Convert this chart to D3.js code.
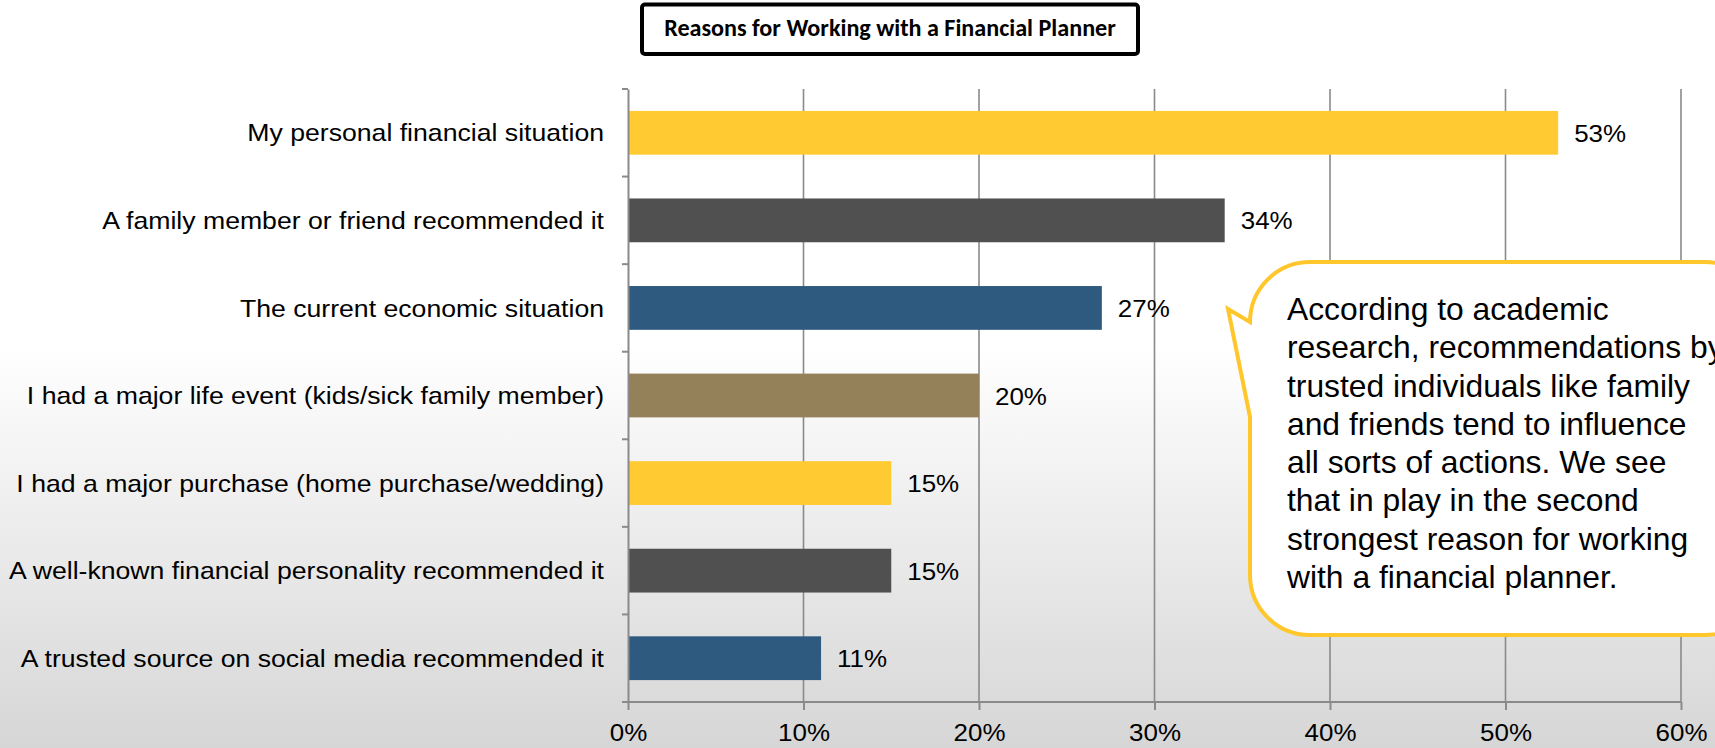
<!DOCTYPE html>
<html>
<head>
<meta charset="utf-8">
<script src="https://cdn.jsdelivr.net/npm/d3@7"></script>
<style>
  html, body { margin: 0; padding: 0; overflow: hidden; }
  svg { display: block; }
</style>
</head>
<body>
<svg id="chart" width="1715" height="748"></svg>
<script>
// Survey answers, top to bottom
const categories = [
  "My personal financial situation",
  "A family member or friend recommended it",
  "The current economic situation",
  "I had a major life event (kids/sick family member)",
  "I had a major purchase (home purchase/wedding)",
  "A well-known financial personality recommended it",
  "A trusted source on social media recommended it"
];
const values = [53, 34, 27, 20, 15, 15, 11];
const tickValues = [0, 10, 20, 30, 40, 50, 60];
const tickLabels = ["0%", "10%", "20%", "30%", "40%", "50%", "60%"];
const chartTitle = "Reasons for Working with a Financial Planner";
const calloutLines = [
  "According to academic",
  "research, recommendations by",
  "trusted individuals like family",
  "and friends tend to influence",
  "all sorts of actions. We see",
  "that in play in the second",
  "strongest reason for working",
  "with a financial planner."
];

// Bar fills cycle through the house palette
const palette = ["#FFCA32", "#505050", "#2E5A80", "#948059"];

const W = 1715, H = 748;
const svg = d3.select("#chart");
const font = "'Liberation Sans', Arial, sans-serif";
// the slide's text face runs a little wider than Liberation Sans
const labelStretch = 1.11, numStretch = 1.06, noteStretch = 1.01;

// Slide background: white fading to light grey at the bottom
const defs = svg.append("defs");
const grad = defs.append("linearGradient")
  .attr("id", "bg").attr("x1", 0).attr("y1", 0).attr("x2", 0).attr("y2", 1);
grad.append("stop").attr("offset", "0.46").attr("stop-color", "#ffffff");
grad.append("stop").attr("offset", "1").attr("stop-color", "#d6d6d6");
svg.append("rect").attr("width", W).attr("height", H).attr("fill", "url(#bg)");

// Plot frame
const plot = { left: 628, right: 1681, top: 89, bottom: 702 };

const x = d3.scaleLinear().domain([0, 60]).range([plot.left, plot.right]);
const y = d3.scaleBand().domain(categories).range([plot.top, plot.bottom]).paddingInner(0.5).paddingOuter(0.25);
const yBand = d3.scaleBand().domain(categories).range([plot.top, plot.bottom]);

const axisColor = "#8a8a8a";

// Vertical gridlines
svg.append("g").selectAll("line")
  .data(tickValues.filter(v => v > 0))
  .join("line")
  .attr("x1", d => x(d)).attr("x2", d => x(d))
  .attr("y1", plot.top).attr("y2", plot.bottom)
  .attr("stroke", axisColor).attr("stroke-width", 1.6);

// Bars
svg.append("g").selectAll("rect")
  .data(values)
  .join("rect")
  .attr("x", x(0))
  .attr("y", (d, i) => y(categories[i]))
  .attr("width", d => x(d) - x(0))
  .attr("height", y.bandwidth())
  .attr("fill", (d, i) => palette[i % palette.length]);

// Value labels
svg.append("g").selectAll("text")
  .data(values)
  .join("text")
  .attr("transform", (d, i) =>
    `translate(${x(d) + 16},${y(categories[i]) + y.bandwidth() / 2}) scale(${numStretch},1)`)
  .attr("dy", "0.37em")
  .attr("font-family", font).attr("font-size", 24.5).attr("fill", "#000")
  .text(d => d + "%");

// Category axis (left)
const yAxis = d3.axisLeft(yBand).tickSize(0).tickPadding(24);
const gy = svg.append("g").attr("transform", `translate(${plot.left},0)`).call(yAxis);
gy.select(".domain").attr("stroke", axisColor).attr("stroke-width", 2);
gy.selectAll(".tick text")
  .attr("font-family", font).attr("font-size", 24).attr("fill", "#000")
  .attr("dy", "0.36em")
  .attr("x", -24 / labelStretch)
  .attr("transform", `scale(${labelStretch},1)`);
// band-boundary tick marks
svg.append("g").selectAll("line")
  .data(d3.range(categories.length + 1))
  .join("line")
  .attr("x1", plot.left - 6).attr("x2", plot.left)
  .attr("y1", i => plot.top + i * yBand.step())
  .attr("y2", i => plot.top + i * yBand.step())
  .attr("stroke", axisColor).attr("stroke-width", 2);

// Value axis (bottom)
const xAxis = d3.axisBottom(x).tickValues(tickValues)
  .tickFormat((d, i) => tickLabels[i]).tickSize(8).tickPadding(14).tickSizeOuter(0);
const gx = svg.append("g").attr("transform", `translate(0,${plot.bottom})`).call(xAxis);
gx.select(".domain").attr("stroke", axisColor).attr("stroke-width", 2)
  .attr("d", `M${plot.left - 6},0H${plot.right}`);
gx.selectAll(".tick line").attr("stroke", axisColor).attr("stroke-width", 2);
gx.selectAll(".tick text").attr("font-family", font).attr("font-size", 24.5).attr("fill", "#000")
  .attr("transform", `scale(${numStretch},1)`);

// Title box
svg.append("rect")
  .attr("x", 642).attr("y", 4.5).attr("width", 496).attr("height", 49.5).attr("rx", 3)
  .attr("fill", "#fff").attr("stroke", "#000").attr("stroke-width", 4);
const title = svg.append("text")
  .attr("x", 890).attr("y", 36).attr("text-anchor", "middle")
  .attr("font-family", "Carlito, 'Open Sans', 'Noto Sans', sans-serif")
  .attr("font-weight", "bold").attr("font-size", 18).attr("fill", "#000")
  .text(chartTitle);
// fit the title to the box width
const tw = title.node().getComputedTextLength();
title.attr("font-size", 18 * 452 / tw);

// Speech-bubble callout
const bubble = d3.path();
bubble.moveTo(1250, 322);
bubble.arcTo(1250, 262, 1310, 262, 60);
bubble.lineTo(1705, 262);
bubble.arcTo(1765, 262, 1765, 322, 60);
bubble.lineTo(1765, 575);
bubble.arcTo(1765, 635, 1705, 635, 60);
bubble.lineTo(1310, 635);
bubble.arcTo(1250, 635, 1250, 575, 60);
bubble.lineTo(1250, 417);
bubble.lineTo(1228, 309);
bubble.closePath();
svg.append("path").attr("d", bubble.toString())
  .attr("fill", "#fff").attr("stroke", "#FFC72C").attr("stroke-width", 4)
  .attr("stroke-linejoin", "miter");

svg.append("g")
  .attr("transform", `translate(1287,0) scale(${noteStretch},1)`)
  .append("text")
  .attr("font-family", font).attr("font-size", 31.5).attr("fill", "#000")
  .selectAll("tspan")
  .data(calloutLines)
  .join("tspan")
  .attr("x", 0)
  .attr("y", (d, i) => 320 + i * 38.3)
  .text(d => d);
</script>
</body>
</html>
